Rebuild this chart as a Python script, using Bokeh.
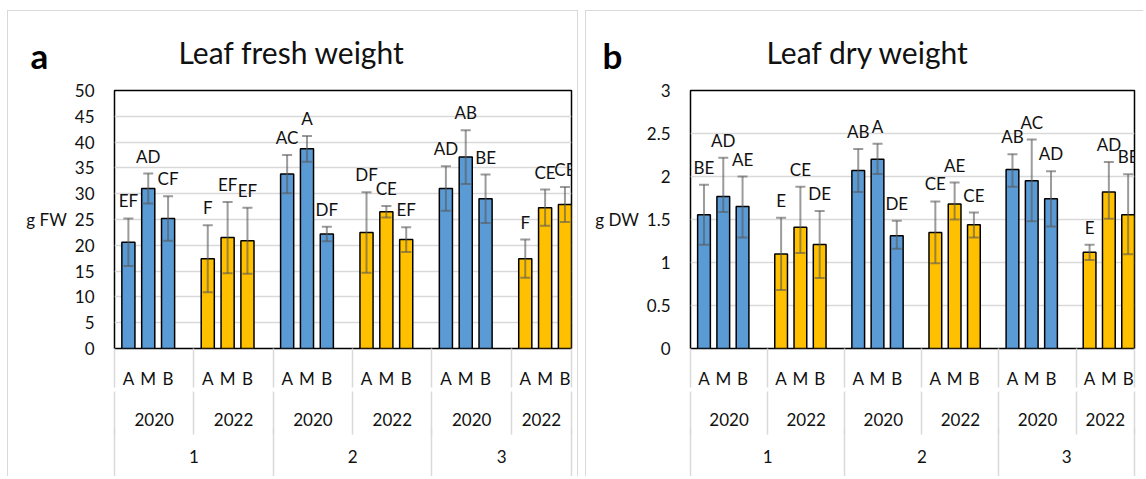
from bokeh.plotting import figure
from bokeh.layouts import row
from bokeh.models import (ColumnDataSource, LinearAxis, FixedTicker, Range1d, LabelSet, Title,
                          NumeralTickFormatter, CustomJSTickFormatter)
from bokeh.core.properties import value
from bokeh.embed import file_html
from bokeh.resources import INLINE

# ---------------- data ----------------
sites = ["1", "2", "3"]
years = ["2020", "2022"]
treatments = ["A", "M", "B"]

fw_mean = [20.6, 31.0, 25.2, 17.4, 21.5, 20.9, 33.8, 38.7, 22.2, 22.5, 26.5, 21.1, 31.0, 37.1, 29.0, 17.4, 27.3, 27.9]
fw_err_up = [4.6, 2.9, 4.3, 6.5, 6.9, 6.4, 3.7, 2.5, 1.4, 7.8, 1.1, 2.4, 4.3, 5.2, 4.7, 3.7, 3.5, 3.4]
fw_err_down = [4.6, 2.9, 4.3, 6.5, 6.9, 6.4, 3.7, 2.5, 1.4, 7.8, 1.1, 2.4, 4.3, 5.2, 4.7, 3.7, 3.5, 3.4]
fw_letters = ["EF", "AD", "CF", "F", "EF", "EF", "AC", "A", "DF", "DF", "CE", "EF", "AD", "AB", "BE", "F", "CE", "CE"]
fw_ticks = [0, 5, 10, 15, 20, 25, 30, 35, 40, 45, 50]

dw_mean = [1.555, 1.767, 1.65, 1.10, 1.41, 1.21, 2.07, 2.20, 1.31, 1.35, 1.68, 1.44, 2.08, 1.95, 1.74, 1.12, 1.82, 1.555]
dw_err_up = [0.35, 0.45, 0.35, 0.42, 0.47, 0.39, 0.25, 0.18, 0.175, 0.36, 0.25, 0.14, 0.18, 0.48, 0.32, 0.085, 0.35, 0.47]
dw_err_down = [0.35, 0.18, 0.36, 0.42, 0.30, 0.39, 0.25, 0.17, 0.15, 0.36, 0.18, 0.15, 0.20, 0.47, 0.32, 0.09, 0.31, 0.46]
dw_letters = ["BE", "AD", "AE", "E", "CE", "DE", "AB", "A", "DE", "CE", "AE", "CE", "AB", "AC", "AD", "E", "AD", "BE"]
dw_ticks = [0, 0.5, 1, 1.5, 2, 2.5, 3]

year_colors = {"2020": "#5B9BD5", "2022": "#FFC000"}

# ---------------- layout constants ----------------
FONT = "Lato"
SEG = 4          # slots per year segment (3 bars + gap)
OFF = 0.7        # offset of first bar in its segment
BAR_W = 0.66
GRID = "#d9d9d9"
TXT = "#111111"


def build(title, letter, ylabel, means, err_up, err_down, letters, yticks, width, border_left,
          border_right, title_x, letter_x, styles):
    xs, cols = [], []
    for si, s in enumerate(sites):
        for yi, yv in enumerate(years):
            for ti, t in enumerate(treatments):
                seg = si * len(years) + yi
                xs.append(seg * SEG + ti + OFF)
                cols.append(year_colors[yv])
    n_seg = len(sites) * len(years)
    x_end = xs[-1] + BAR_W / 2

    hi = [m + e for m, e in zip(means, err_up)]
    lo = [m - e for m, e in zip(means, err_down)]
    src = ColumnDataSource(dict(x=xs, top=means, hi=hi, lo=lo, color=cols, letter=letters))

    p = figure(width=width, height=466, x_range=Range1d(0, x_end),
               y_range=Range1d(yticks[0], yticks[-1]), x_axis_type=None,
               output_backend="svg", toolbar_location=None,
               min_border_left=border_left, min_border_right=border_right,
               min_border_top=78, min_border_bottom=129)
    p.margin = (10, 0, 0, 7)
    p.styles = styles
    p.background_fill_color = "white"
    p.border_fill_color = "white"
    p.outline_line_color = "black"
    p.outline_line_width = 1.5

    yax = p.yaxis[0]
    yax.ticker = FixedTicker(ticks=yticks)
    yax.formatter = NumeralTickFormatter(format="0.[0]")
    yax.axis_line_color = None
    yax.major_tick_line_color = None
    yax.minor_tick_line_color = None
    yax.major_tick_out = 0
    yax.major_tick_in = 0
    yax.minor_tick_out = 0
    yax.major_label_standoff = 20
    yax.major_label_text_font = FONT
    yax.major_label_text_font_size = "17px"
    yax.major_label_text_color = TXT
    yax.axis_label = ylabel
    yax.axis_label_standoff = 5
    yax.axis_label_text_font = FONT
    yax.axis_label_text_font_size = "17px"
    yax.axis_label_text_font_style = "normal"
    yax.axis_label_text_color = TXT
    try:
        yax.axis_label_orientation = "horizontal"
    except Exception:
        pass
    p.ygrid.grid_line_color = GRID
    p.ygrid.grid_line_width = 1.5
    p.ygrid.ticker = FixedTicker(ticks=yticks)

    p.vbar(x="x", top="top", bottom=0, width=BAR_W, source=src, fill_color="color",
           line_color="black", line_width=1.5)
    p.segment(x0="x", y0="lo", x1="x", y1="hi", source=src, line_color="#595959",
              line_alpha=0.6, line_width=2)
    p.scatter(x="x", y="hi", source=src, marker="dash", size=10, line_color="#595959",
              line_alpha=0.6, line_width=2)
    p.scatter(x="x", y="lo", source=src, marker="dash", size=10, line_color="#595959",
              line_alpha=0.6, line_width=2)

    p.add_layout(LabelSet(x="x", y="hi", text="letter", source=src, y_offset=11,
                          text_align="center", text_baseline="alphabetic",
                          text_font=value(FONT), text_font_size=value("17px"),
                          text_color=TXT))

    # category axes (three levels)
    bounds = [k * SEG for k in range(n_seg)] + [x_end]
    site_bounds = [k * SEG * len(years) for k in range(len(sites))] + [x_end]
    year_pos = [(bounds[k] + bounds[k + 1]) / 2 for k in range(n_seg)]
    year_labels = [yv for s in sites for yv in years]
    site_pos = [(site_bounds[k] + site_bounds[k + 1]) / 2 for k in range(len(sites))]

    def cat_axis(ticks, labels, minor, label_gap, minor_len):
        return LinearAxis(
            ticker=FixedTicker(ticks=ticks, minor_ticks=minor),
            formatter=CustomJSTickFormatter(args=dict(labels=labels), code="return labels[index];"),
            axis_line_color=None, major_tick_line_color=None, major_tick_out=0, major_tick_in=0,
            minor_tick_out=minor_len, minor_tick_in=0, minor_tick_line_color=GRID,
            minor_tick_line_width=1.5, major_label_standoff=label_gap - minor_len,
            major_label_text_font=FONT, major_label_text_font_size="17px",
            major_label_text_color=TXT)

    p.add_layout(cat_axis(xs, [t for _ in range(n_seg) for t in treatments], bounds, 19, 39), "below")
    p.add_layout(cat_axis(year_pos, year_labels, bounds, 21, 43), "below")
    p.add_layout(cat_axis(site_pos, sites, site_bounds, 21, 60), "below")

    # chart title and panel letter (side-panel titles, outside the frame)
    p.add_layout(Title(text=title, align="left", offset=title_x, standoff=41,
                       text_font=FONT, text_font_size="30px", text_font_style="normal",
                       text_color=TXT), "above")
    p.add_layout(Title(text=letter, align="left", offset=letter_x, standoff=-129,
                       text_font=FONT, text_font_size="35px", text_font_style="bold",
                       text_color="#000000"), "above")
    return p


pa = build("Leaf fresh weight", "a", "g FW", fw_mean, fw_err_up, fw_err_down, fw_letters, fw_ticks,
           width=571, border_left=106, border_right=8, title_x=64, letter_x=-84,
           styles={"border-top": "1.5px solid #d9d9d9", "border-left": "1.5px solid #d9d9d9",
                   "border-right": "1.5px solid #d9d9d9"})
pb = build("Leaf dry weight", "b", "g DW", dw_mean, dw_err_up, dw_err_down, dw_letters, dw_ticks,
           width=558, border_left=104, border_right=10, title_x=76, letter_x=-88,
           styles={"border-top": "1.5px solid #d9d9d9", "border-left": "1.5px solid #d9d9d9"})

layout = row(pa, pb)
open("out.html", "w").write(file_html(layout, INLINE))
